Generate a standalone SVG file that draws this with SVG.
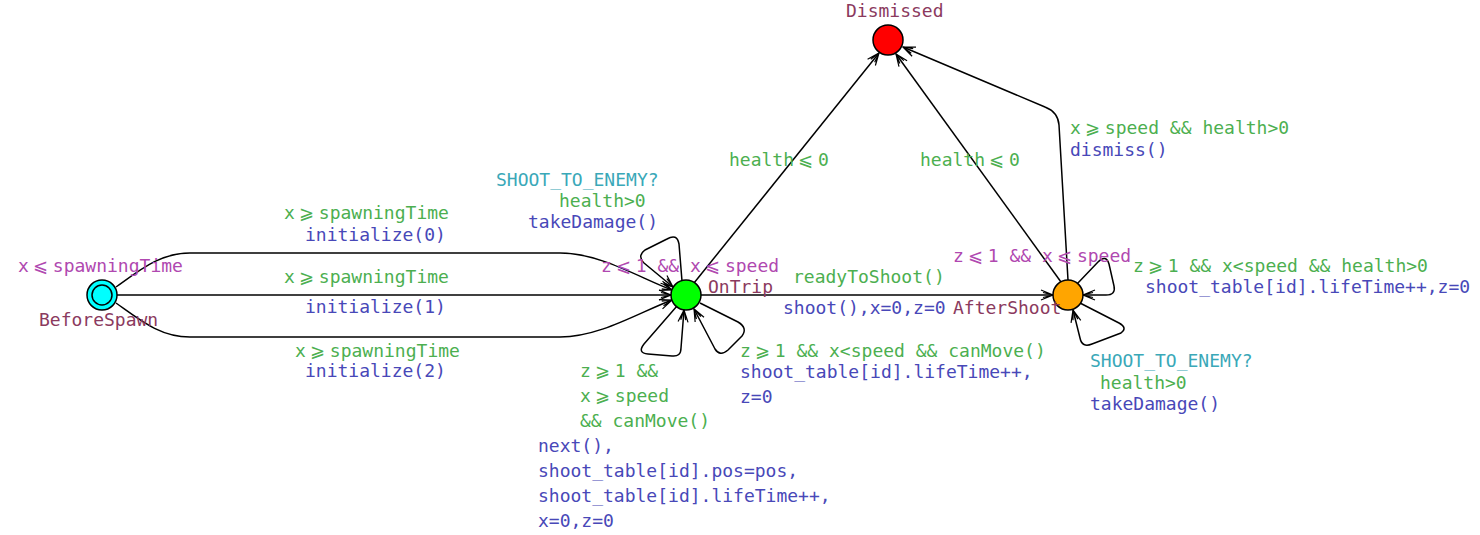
<svg xmlns="http://www.w3.org/2000/svg" width="1480" height="535" viewBox="0 0 1480 535">
<style>
text{font-family:"DejaVu Sans Mono","Liberation Mono",monospace;font-size:18px}
.g{fill:#4caf50}.a{fill:#4848b8}.i{fill:#b048b0}.s{fill:#3aa8b8}.n{fill:#8b3a5e}
.e{fill:none;stroke:#000;stroke-width:1.5;stroke-linejoin:round}
.loc{stroke:#000;stroke-width:1.5}
</style>
<defs>
<marker id="ah" viewBox="0 0 14 12" refX="13" refY="6" markerWidth="14" markerHeight="12" markerUnits="userSpaceOnUse" orient="auto">
<path d="M1,1 L13,6 L1,11 M3,3.5 L13,6 L3,8.5" fill="none" stroke="#000" stroke-width="1.2"/>
</marker>
</defs>
<g id="connectors">
<path class="e" d="M116,287 C140,270 160,253 190,253 L560,253 C600,253 640,278 672,290" marker-end="url(#ah)"/>
<path class="e" d="M117,295 L671,295" marker-end="url(#ah)"/>
<path class="e" d="M116,303 C140,320 160,337 190,337 L560,337 C600,337 640,312 672,300" marker-end="url(#ah)"/>
<path class="e" d="M682,281 L679,244 Q677,233 667,239 L645,250 Q637,256 644,263 L673,287" marker-end="url(#ah)"/>
<path class="e" d="M677,306 L644,344 Q637,353 648,354 L672,356 Q681,357 681,348 L684,310" marker-end="url(#ah)"/>
<path class="e" d="M700,303 L738,322 Q748,328 742,336 L728,350 Q720,357 715,349 L694,309" marker-end="url(#ah)"/>
<path class="e" d="M701,295 L1053,295" marker-end="url(#ah)"/>
<path class="e" d="M694,283 L879,53" marker-end="url(#ah)"/>
<path class="e" d="M1061,282 L896,54" marker-end="url(#ah)"/>
<path class="e" d="M1068,280 L1059,125 Q1058,112 1045,107 L903,47" marker-end="url(#ah)"/>
<path class="e" d="M1077,284 L1098,262 Q1106,254 1109,264 L1114,286 Q1116,295 1106,295 L1083,295" marker-end="url(#ah)"/>
<path class="e" d="M1080,303 L1119,323 Q1128,328 1121,333 L1092,344 Q1082,348 1080,338 L1073,310" marker-end="url(#ah)"/>
</g>
<g id="BeforeSpawn">
<circle class="loc" cx="102" cy="295" r="15" fill="#00ffff"/>
<circle class="loc" cx="102" cy="295" r="10" fill="#00ffff"/>
<text class="i" x="18" y="272">x<tspan dx="4">⩽</tspan><tspan dx="5">spawningTime</tspan></text>
<text class="n" x="39" y="326">BeforeSpawn</text>
</g>
<g id="OnTrip">
<circle class="loc" cx="686" cy="295" r="15" fill="#00ff00"/>
<text class="i" x="601" y="272">z<tspan dx="4">⩽</tspan><tspan dx="5">1 &amp;&amp; x</tspan><tspan dx="4">⩽</tspan><tspan dx="5">speed</tspan></text>
<text class="n" x="708" y="293">OnTrip</text>
</g>
<g id="AfterShoot">
<circle class="loc" cx="1068" cy="295" r="15" fill="#ffa500"/>
<text class="i" x="953" y="262">z<tspan dx="4">⩽</tspan><tspan dx="5">1 &amp;&amp; x</tspan><tspan dx="4">⩽</tspan><tspan dx="5">speed</tspan></text>
<text class="n" x="953" y="314">AfterShoot</text>
</g>
<g id="Dismissed">
<circle class="loc" cx="888" cy="40" r="15" fill="#ff0000"/>
<text class="n" x="846" y="17">Dismissed</text>
</g>
<g id="labels">
<text class="g" x="284" y="219">x<tspan dx="4">⩾</tspan><tspan dx="5">spawningTime</tspan></text>
<text class="a" x="305" y="241">initialize(0)</text>
<text class="g" x="284" y="283">x<tspan dx="4">⩾</tspan><tspan dx="5">spawningTime</tspan></text>
<text class="a" x="305" y="313">initialize(1)</text>
<text class="g" x="295" y="357">x<tspan dx="4">⩾</tspan><tspan dx="5">spawningTime</tspan></text>
<text class="a" x="305" y="377">initialize(2)</text>
<text class="s" x="496" y="186">SHOOT_TO_ENEMY?</text>
<text class="g" x="559" y="207">health&gt;0</text>
<text class="a" x="528" y="228">takeDamage()</text>
<text class="g" x="580" y="377">z<tspan dx="4">⩾</tspan><tspan dx="5">1 &amp;&amp;</tspan></text>
<text class="g" x="580" y="402">x<tspan dx="4">⩾</tspan><tspan dx="5">speed</tspan></text>
<text class="g" x="580" y="427">&amp;&amp; canMove()</text>
<text class="a" x="538" y="452">next(),</text>
<text class="a" x="538" y="477">shoot_table[id].pos=pos,</text>
<text class="a" x="538" y="502">shoot_table[id].lifeTime++,</text>
<text class="a" x="538" y="527">x=0,z=0</text>
<text class="g" x="740" y="357">z<tspan dx="4">⩾</tspan><tspan dx="5">1 &amp;&amp; x&lt;speed &amp;&amp; canMove()</tspan></text>
<text class="a" x="740" y="378">shoot_table[id].lifeTime++,</text>
<text class="a" x="740" y="403">z=0</text>
<text class="g" x="729" y="166">health<tspan dx="4">⩽</tspan><tspan dx="5">0</tspan></text>
<text class="g" x="920" y="166">health<tspan dx="4">⩽</tspan><tspan dx="5">0</tspan></text>
<text class="g" x="793" y="283">readyToShoot()</text>
<text class="a" x="783" y="314">shoot(),x=0,z=0</text>
<text class="g" x="1070" y="134">x<tspan dx="4">⩾</tspan><tspan dx="5">speed &amp;&amp; health&gt;0</tspan></text>
<text class="a" x="1070" y="156">dismiss()</text>
<text class="g" x="1133" y="272">z<tspan dx="4">⩾</tspan><tspan dx="5">1 &amp;&amp; x&lt;speed &amp;&amp; health&gt;0</tspan></text>
<text class="a" x="1145" y="293">shoot_table[id].lifeTime++,z=0</text>
<text class="s" x="1090" y="367">SHOOT_TO_ENEMY?</text>
<text class="g" x="1100" y="389">health&gt;0</text>
<text class="a" x="1090" y="410">takeDamage()</text>
</g>
</svg>
